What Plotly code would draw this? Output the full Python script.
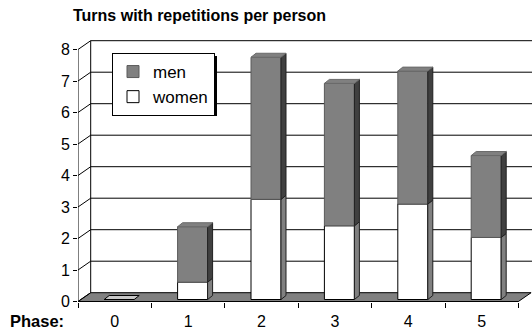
import plotly.graph_objects as go

# Data: turns with repetitions per person, by phase
phases = ["0", "1", "2", "3", "4", "5"]
women = [0.0, 0.55, 3.18, 2.34, 3.03, 1.97]
men = [0.0, 1.76, 4.51, 4.52, 4.22, 2.60]
y_ticks = [0, 1, 2, 3, 4, 5, 6, 7, 8]

# Geometry of the pseudo-3D frame (axis units)
W, H = 532, 333
M_L, M_R, M_T, M_B = 78, 0, 40, 31
PW, PH = W - M_L - M_R, H - M_T - M_B
PX_X = 73.4            # pixels per category
PX_Y = 31.5            # pixels per value unit
X0 = -0.5
X1 = X0 + PW / PX_X
Y0 = -0.016
Y1 = Y0 + PH / PX_Y
DX = 12.7 / PX_X       # wall depth, horizontal
DY = 8.8 / PX_Y        # wall depth, vertical
BAR_W = 30 / PX_X
BAR_SHIFT = 4.5 / PX_X
BAR_Y0 = 2.0 / PX_Y
DXB = 5.0 / PX_X       # bar depth, horizontal
DYB = 4.0 / PX_Y       # bar depth, vertical

GRAY = "#808080"
DARK = "#404040"
LIGHT = "#c8c8c8"


def px_x(p):
    return (p - M_L) / PW


def px_y(p):
    return (H - M_B - p) / PH


xs = list(range(len(phases)))
fig = go.Figure()

# Front faces of the stacked columns
fig.add_trace(go.Bar(
    x=xs, y=women, base=[BAR_Y0] * len(xs), width=BAR_W,
    offset=BAR_SHIFT - BAR_W / 2, name="women",
    marker=dict(color="white", line=dict(color="black", width=1)),
))
fig.add_trace(go.Bar(
    x=xs, y=men, base=[BAR_Y0 + w for w in women], width=BAR_W,
    offset=BAR_SHIFT - BAR_W / 2, name="men",
    marker=dict(color=GRAY, line=dict(color="#5a5a5a", width=1)),
))


def poly(px, py, fill, line="black", lw=1):
    fig.add_trace(go.Scatter(
        x=px + [px[0]], y=py + [py[0]], mode="lines", fill="toself",
        fillcolor=fill, line=dict(color=line, width=lw),
        hoverinfo="skip", showlegend=False,
    ))


# Side and top faces of every column
for i, (w, m) in enumerate(zip(women, men)):
    xl = i + BAR_SHIFT - BAR_W / 2
    xr = xl + BAR_W
    yb = BAR_Y0
    yw = BAR_Y0 + w
    yt = yw + m
    if w > 0:
        poly([xr, xr + DXB, xr + DXB, xr], [yb, yb + DYB, yw + DYB, yw], GRAY, "#202020")
    if m > 0:
        poly([xr, xr + DXB, xr + DXB, xr], [yw, yw + DYB, yt + DYB, yt], DARK, "#202020")
    top_fill = GRAY if m > 0 else LIGHT
    top_line = "#6a6a6a" if m > 0 else "black"
    poly([xl, xr, xr + DXB, xl + DXB], [yt, yt, yt + DYB, yt + DYB], top_fill, top_line)

# Walls, floor and gridlines
shapes = []
xr_front = X0 + len(phases)
shapes.append(dict(
    type="path", layer="below",
    path=f"M {X0},0 L {xr_front},0 L {xr_front + DX},{DY} L {X0 + DX},{DY} Z",
    fillcolor=GRAY, line=dict(color="black", width=1),
))
for k in y_ticks:
    shapes.append(dict(type="line", layer="below", x0=X0, y0=k, x1=X0 + DX, y1=k + DY,
                       line=dict(color="black", width=1)))
    if k > 0:
        shapes.append(dict(type="line", layer="below", x0=X0 + DX, y0=k + DY, x1=X1, y1=k + DY,
                           line=dict(color="black", width=1)))
shapes.append(dict(type="line", layer="below", x0=X0, y0=0, x1=X0, y1=max(y_ticks),
                   line=dict(color="black", width=1)))
shapes.append(dict(type="line", layer="below", x0=X0 + DX, y0=DY, x1=X0 + DX, y1=max(y_ticks) + DY,
                   line=dict(color="black", width=1)))
shapes.append(dict(type="line", layer="above", x0=X0, y0=0, x1=xr_front, y1=0,
                   line=dict(color="black", width=1)))

# Drop shadow behind the legend box
LEG_L, LEG_T, LEG_R, LEG_B = 112, 53, 214, 113
shapes.append(dict(type="rect", layer="above", xref="paper", yref="paper",
                   x0=px_x(LEG_L + 3), x1=px_x(LEG_R + 3),
                   y0=px_y(LEG_B + 3), y1=px_y(LEG_T + 3),
                   fillcolor="black", line=dict(width=0)))

fig.update_layout(
    width=W, height=H,
    margin=dict(l=M_L, r=M_R, t=M_T, b=M_B, pad=0),
    paper_bgcolor="white", plot_bgcolor="white",
    barmode="overlay",
    font=dict(family="Liberation Sans, Arial, sans-serif", color="black", size=16),
    title=dict(text="Turns with repetitions per person", xref="container", yref="container",
               x=73 / W, xanchor="left", y=1 - 15 / H, yanchor="middle",
               font=dict(size=16, weight="bold")),
    xaxis=dict(range=[X0, X1], showgrid=False, zeroline=False, showline=False,
               tickmode="array", tickvals=xs, ticktext=phases, ticks="",
               ticklabelstandoff=8,
               minor=dict(tickmode="array", tickvals=[X0 + j for j in range(len(phases) + 1)],
                          ticks="outside", ticklen=5, tickcolor="black", showgrid=False)),
    yaxis=dict(range=[Y0, Y1], showgrid=False, zeroline=False, showline=False,
               tickmode="array", tickvals=y_ticks, ticks="outside", ticklen=4,
               tickcolor="black"),
    legend=dict(x=px_x(LEG_L), y=px_y(LEG_T), xanchor="left", yanchor="top",
                bgcolor="white", bordercolor="black", borderwidth=1,
                font=dict(size=17), traceorder="reversed", itemwidth=30),
    shapes=shapes,
    annotations=[dict(text="<b>Phase:</b>", xref="paper", yref="paper",
                      x=px_x(8), y=px_y(321),
                      xanchor="left", yanchor="middle", showarrow=False,
                      font=dict(size=16.5))],
)

fig.write_html("out.html")
